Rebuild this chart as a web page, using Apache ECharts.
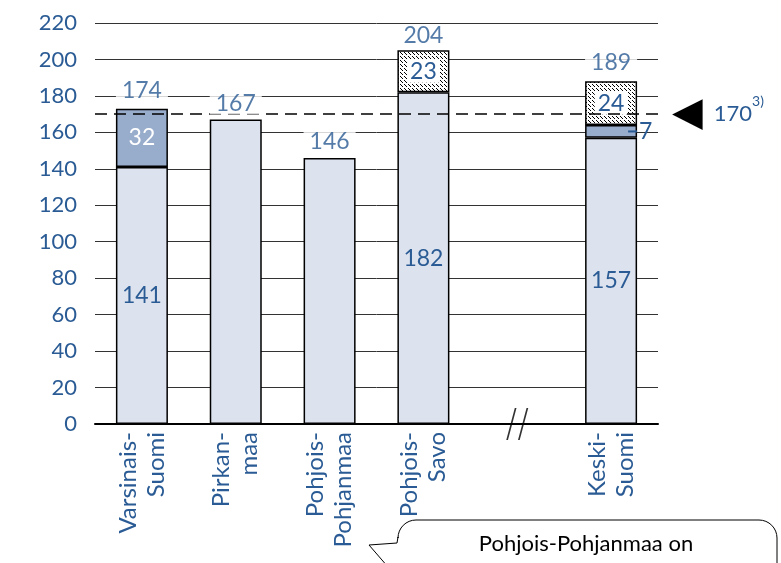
<!DOCTYPE html>
<html>
<head>
<meta charset="utf-8">
<script src="https://cdn.jsdelivr.net/npm/echarts@6/dist/echarts.min.js"></script>
<style>
  html, body { margin: 0; padding: 0; background: #fff; }
  #chart { width: 781px; height: 563px; }
</style>
</head>
<body>
<div id="chart"></div>
<script>
// Regions (the empty slot marks the break in the axis)
const categories = ['Varsinais-\nSuomi', 'Pirkan-\nmaa', 'Pohjois-\nPohjanmaa', 'Pohjois-\nSavo', '', 'Keski-\nSuomi'];
// Stacked bar segments
const baseValues    = [141, 167, 146, 182, null, 157];
const extraValues   = [32, null, null, null, null, 7];
const hatchedValues = [null, null, null, 23, null, 24];
// Totals printed above each bar
const totalValues   = [174, 167, 146, 204, null, 189];
// Value axis
const yMin = 0, yMax = 220, yInterval = 20;
// Reference level
const referenceLevel = 170;
const referenceNote = '3)';
// Position of the axis break
const breakIndex = 4;

const BLUE = '#2A5B94';
const FONT = 'Lato, "Open Sans", sans-serif';

// Small "dashed downward diagonal" fill
function hatchPattern() {
  const c = document.createElement('canvas');
  c.width = 8; c.height = 8;
  const g = c.getContext('2d');
  g.fillStyle = '#fff'; g.fillRect(0, 0, 8, 8);
  g.fillStyle = '#000';
  [[0,0],[1,1],[2,2],[4,4],[5,5],[6,6],[4,0],[5,1],[6,2],[0,4],[1,5],[2,6]]
    .forEach(([x, y]) => g.fillRect(x, y, 1, 1));
  return c;
}

// Points along a circular arc, for the rounded corners of the speech bubble
function arc(cx, cy, r, a0, a1) {
  const pts = [];
  for (let k = 0; k <= 8; k++) {
    const a = a0 + (a1 - a0) * k / 8;
    pts.push([cx + r * Math.cos(a), cy + r * Math.sin(a)]);
  }
  return pts;
}

const bubblePoints = [[395, 575], [369, 545], [397, 543], [398, 537]]
  .concat(arc(416, 538, 18, Math.PI, Math.PI * 1.5))
  .concat(arc(759, 538, 18, Math.PI * 1.5, Math.PI * 2))
  .concat([[777, 600]]);

const hasUpper = (i) => extraValues[i] != null || hatchedValues[i] != null;

const border = { borderColor: '#000', borderWidth: 1.5 };
const VALUE_FONT = 23;

const chart = echarts.init(document.getElementById('chart'), null, { renderer: 'canvas' });

chart.setOption({
  animation: false,
  textStyle: { fontFamily: FONT },
  grid: { left: 95, right: 123, top: 23, bottom: 139, containLabel: false },
  xAxis: {
    type: 'category',
    data: categories,
    axisTick: { show: false },
    axisLine: { lineStyle: { color: '#000', width: 2 } },
    axisLabel: {
      interval: 0, rotate: 90, margin: 8,
      color: BLUE, fontSize: 24, lineHeight: 28, fontFamily: FONT
    }
  },
  yAxis: {
    type: 'value',
    min: yMin, max: yMax, interval: yInterval,
    axisLine: { show: false },
    axisTick: { show: false },
    axisLabel: { color: BLUE, fontSize: 22, margin: 18, fontFamily: FONT },
    splitLine: { lineStyle: { color: '#333', width: 1 } }
  },
  series: [
    {
      type: 'bar', stack: 'total', barWidth: 52,
      itemStyle: Object.assign({ color: '#DCE3EE' }, border),
      data: baseValues.map((v, i) => ({
        value: v,
        label: { show: v != null && hasUpper(i) }
      })),
      label: { position: 'inside', color: BLUE, fontSize: VALUE_FONT, fontFamily: FONT },
      markLine: {
        silent: true,
        symbol: ['none', 'none'],
        lineStyle: { color: '#000', width: 1.5, type: [12, 7] },
        data: [{ yAxis: referenceLevel }],
        label: {
          show: true, position: 'end', distance: 14,
          formatter: () => '{tri|◀}{gap|}{v|' + referenceLevel + '}{s|' + referenceNote + '}',
          rich: {
            tri: { fontSize: 40, color: '#000', fontFamily: 'DejaVu Sans', verticalAlign: 'middle' },
            gap: { width: 11 },
            v: { fontSize: 22, color: BLUE, fontFamily: FONT, verticalAlign: 'middle' },
            s: { fontSize: 14, color: BLUE, fontFamily: FONT, verticalAlign: 'top', padding: [0, 0, 12, 0] }
          }
        }
      },
      z: 2
    },
    {
      type: 'bar', stack: 'total', barWidth: 52,
      itemStyle: Object.assign({ color: '#98ACCC' }, border),
      data: extraValues.map((v) => ({
        value: v,
        label: v != null && v < 10
          ? {
              show: true, position: 'right', distance: -9,
              formatter: '{d|}{n|{c}}',
              rich: {
                d: { width: 9, height: 2, backgroundColor: BLUE },
                n: { fontSize: VALUE_FONT, color: BLUE, fontFamily: FONT, padding: [0, 0, 0, 2] }
              }
            }
          : { show: v != null, position: 'inside', color: '#fff', fontSize: VALUE_FONT, fontFamily: FONT }
      })),
      z: 2
    },
    {
      type: 'bar', stack: 'total', barWidth: 52,
      itemStyle: Object.assign({ color: { image: hatchPattern(), repeat: 'repeat' } }, border),
      data: hatchedValues,
      label: {
        show: true, position: 'inside', color: BLUE, fontSize: VALUE_FONT, fontFamily: FONT,
        backgroundColor: '#fff', padding: [0, 3]
      },
      z: 2
    },
    {
      type: 'scatter',
      symbolSize: 0,
      data: totalValues.map((v, i) => (v == null ? null : [i, v])),
      label: {
        show: true, position: 'top', distance: 5,
        formatter: (p) => String(p.value[1]),
        color: BLUE, fontSize: VALUE_FONT, fontFamily: FONT,
        backgroundColor: '#fff', padding: [0, 6]
      },
      z: 5
    },
    {
      // axis break marker
      type: 'scatter',
      silent: true,
      symbol: 'path://M0,32 L8,0 L9.6,0 L1.6,32 Z M11,32 L19,0 L20.6,0 L12.6,32 Z',
      symbolSize: [22, 32],
      itemStyle: { color: '#000' },
      data: [[breakIndex, 0]],
      z: 6
    }
  ],
  graphic: [
    {
      type: 'polyline',
      shape: { points: bubblePoints },
      style: { fill: '#fff', stroke: '#000', lineWidth: 1 },
      z: 10
    },
    {
      type: 'text',
      x: 586, y: 544,
      style: {
        text: 'Pohjois-Pohjanmaa on',
        align: 'center', verticalAlign: 'middle',
        fill: '#000', font: '22px ' + FONT
      },
      z: 11
    }
  ]
});
</script>
</body>
</html>
